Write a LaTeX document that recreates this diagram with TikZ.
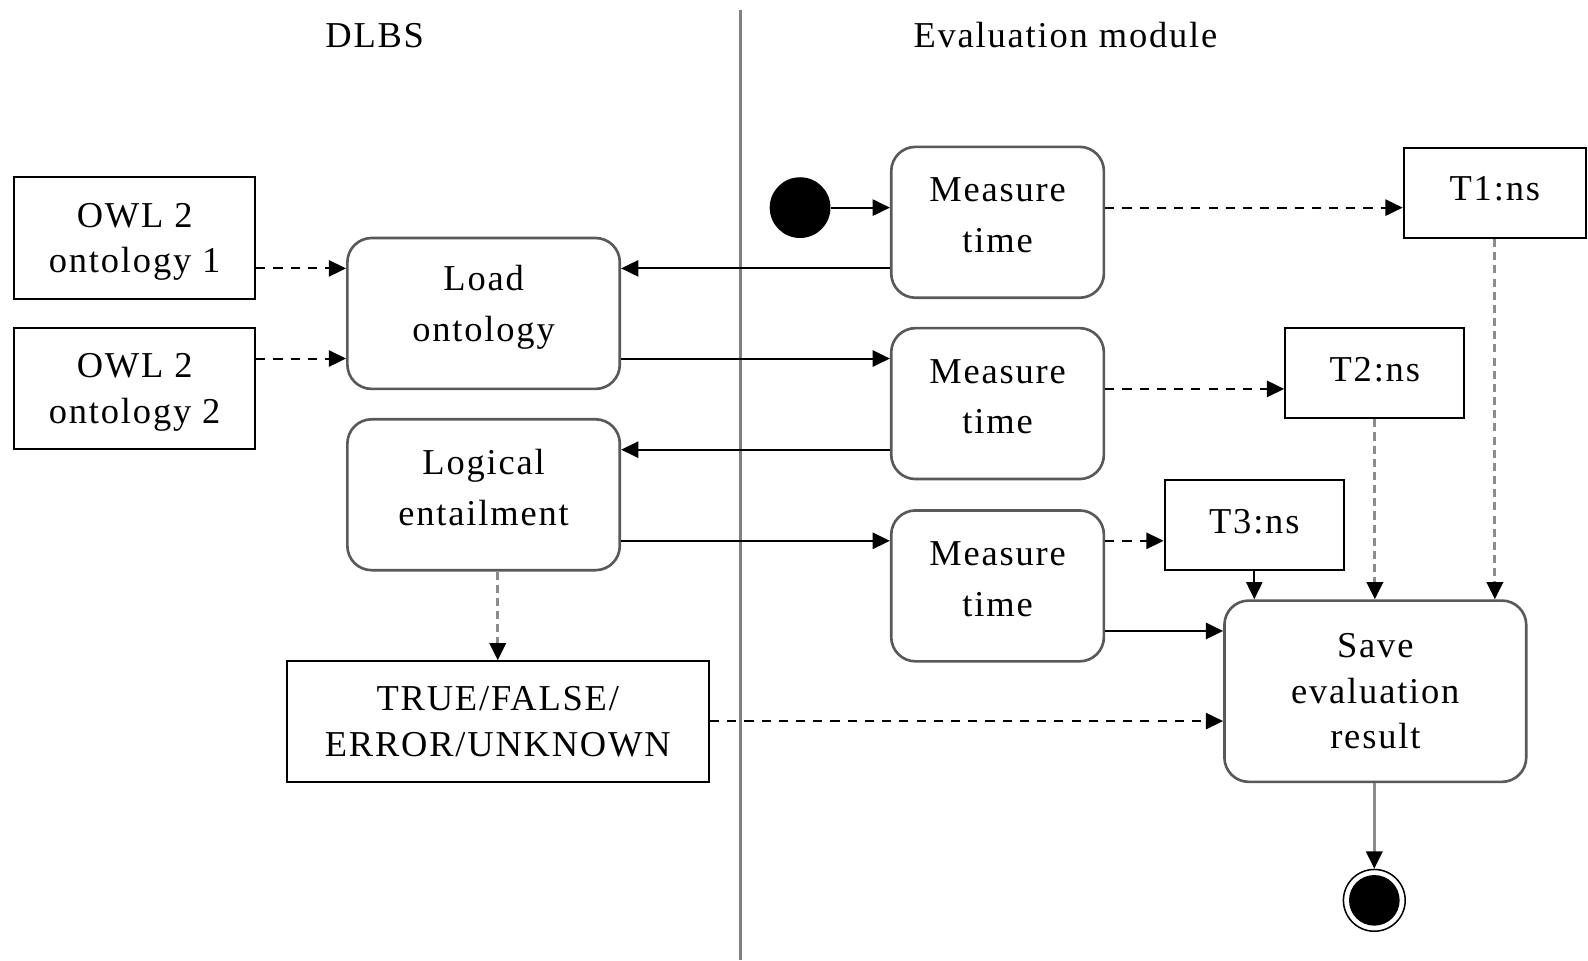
\documentclass[tikz,border=0pt]{standalone}
\usepackage{fontspec}
\setmainfont[LetterSpace=5]{Liberation Serif}
\usetikzlibrary{arrows.meta}
\begin{document}
\begin{tikzpicture}[x=1pt,y=-1pt,
  txt/.style={font=\fontsize{36}{50}\selectfont, align=center, inner sep=0pt},
  tighttxt/.style={font=\fontsize{36}{45}\selectfont, align=center, inner sep=0pt},
  action/.style={txt, draw=black!65, line width=2.6pt, rounded corners=24pt},
  twoline/.style={text depth=14pt},
  objbox/.style={tighttxt, draw=black, line width=2pt},
  timebox/.style={objbox, minimum height=89pt, text depth=8pt},
  flow/.style={draw=black, line width=2pt, -{Triangle[length=17pt,width=16pt]}},
  objflow/.style={flow, dash pattern=on 9pt off 8pt},
  greyflow/.style={draw=black!45, line width=3pt, -{Triangle[length=17pt,width=16pt,color=black]}},
  greydash/.style={greyflow, dash pattern=on 8pt off 5pt},
  lane/.style={draw=black!50, line width=3pt}
]
\useasboundingbox (0,0) rectangle (1568,948);

% swimlane separator and titles
\coordinate (laneTop) at (731,10);
\coordinate (laneBot) at (731,948);
\draw[lane] (laneTop) -- (laneBot);
\node[txt] (dlbs) at (370,35) {DLBS};
\node[txt] (evalmod) at (1052,35) {Evaluation module};

% DLBS lane
\node[objbox, minimum width=238pt, minimum height=120pt, text depth=-6pt] (owlA) at (133,235) {OWL 2\\ontology 1};
\node[objbox, minimum width=238pt, minimum height=119pt, text depth=-6pt] (owlB) at (133,383.5) {OWL 2\\ontology 2};
\node[action, minimum width=269pt, minimum height=149pt, text depth=20pt] (load) at (477.5,309.5) {Load\\ontology};
\node[action, twoline, minimum width=269pt, minimum height=149pt] (logic) at (477.5,488.5) {Logical\\entailment};
\node[objbox, minimum width=417pt, minimum height=119pt] (result) at (491.5,712.5) {TRUE/FALSE/\\ERROR/UNKNOWN};

% evaluation module lane
\node[circle, fill=black, minimum size=60pt, inner sep=0pt] (start) at (790,205) {};
\node[action, twoline, minimum width=210pt, minimum height=149pt] (mtA) at (985,219.5) {Measure\\time};
\node[action, twoline, minimum width=210pt, minimum height=149pt] (mtB) at (985,398.5) {Measure\\time};
\node[action, twoline, minimum width=210pt, minimum height=149pt] (mtC) at (985,578.5) {Measure\\time};
\node[timebox, minimum width=180pt] (tA) at (1476,190.5) {T1:ns};
\node[timebox, minimum width=177pt] (tB) at (1357.5,368.5) {T2:ns};
\node[timebox, minimum width=177pt] (tC) at (1238.5,518.5) {T3:ns};
\node[action, tighttxt, minimum width=298pt, minimum height=179pt] (save) at (1358,682.5) {Save\\evaluation\\result};
\node[circle, draw=black, line width=1.5pt, minimum size=61pt, inner sep=0pt,
      path picture={\fill[black] (path picture bounding box.center) circle (25pt);}] (final) at (1357,889) {};

% object flows into loading
\draw[objflow] (owlA.east |- 0,265) -- (load.west |- 0,265);
\draw[objflow] (owlB.east |- 0,354) -- (load.west |- 0,354);

% control flow between the lanes
\draw[flow] (start) -- (mtA.west |- start);
\draw[flow] (mtA.west |- 0,265) -- (load.east |- 0,265);
\draw[flow] (load.east |- 0,354) -- (mtB.west |- 0,354);
\draw[flow] (mtB.west |- 0,444) -- (logic.east |- 0,444);
\draw[flow] (logic.east |- 0,534) -- (mtC.west |- 0,534);
\draw[flow] (mtC.east |- 0,623) -- (save.west |- 0,623);

% measured times
\draw[objflow] (mtA.east |- 0,205) -- (tA.west |- 0,205);
\draw[objflow] (mtB.east |- 0,384) -- (tB.west |- 0,384);
\draw[objflow] (mtC.east |- 0,534) -- (tC.west |- 0,534);
\draw[flow] (tC.south) -- (save.north -| tC.south);
\draw[greydash] (tB.south) -- (save.north -| tB.south);
\draw[greydash] (tA.south) -- (save.north -| tA.south);

% entailment result
\draw[greydash] (logic.south -| result.north) -- (result.north);
\draw[objflow] (result.east |- 0,712) -- (save.west |- 0,712);

% end
\draw[greyflow] (save.south -| final.north) -- (final.north);
\end{tikzpicture}
\end{document}
